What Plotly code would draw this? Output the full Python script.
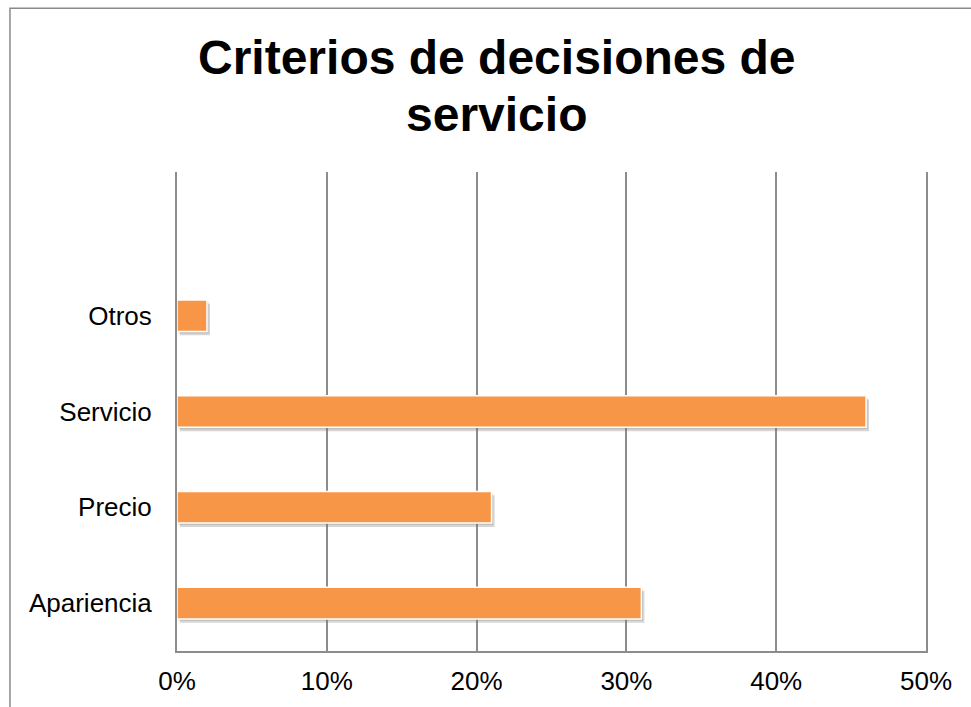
import plotly.graph_objects as go

# Data
categories = ["Apariencia", "Precio", "Servicio", "Otros"]
values = [31, 21, 46, 2]          # percent
tick_vals = [0, 10, 20, 30, 40, 50]
tick_text = ["0%", "10%", "20%", "30%", "40%", "50%"]
title_lines = ["Criterios de decisiones de", "servicio"]

positions = list(range(len(categories)))
bar_width = 0.33
shadow_shift = 0.2   # in percent units along x

FONT = "Liberation Sans, Arial, sans-serif"

fig = go.Figure()

# soft drop shadow behind each bar
fig.add_trace(go.Bar(
    y=positions, x=values, base=shadow_shift, orientation="h",
    width=bar_width, offset=-bar_width / 2 - 0.04,
    marker=dict(color="rgba(120,120,120,0.30)", line=dict(width=0)),
    hoverinfo="skip", showlegend=False,
))
fig.add_trace(go.Bar(
    y=positions, x=values, base=shadow_shift / 2, orientation="h",
    width=bar_width, offset=-bar_width / 2 - 0.02,
    marker=dict(color="rgba(120,120,120,0.25)", line=dict(width=0)),
    hoverinfo="skip", showlegend=False,
))

# main bars
fig.add_trace(go.Bar(
    y=positions, x=values, orientation="h",
    width=bar_width, offset=-bar_width / 2,
    marker=dict(color="#F79646", line=dict(color="white", width=1.5)),
    showlegend=False,
))

# two-line bold title, one annotation per line
title_annotations = [
    dict(text=f"<b>{line}</b>", xref="paper", yref="paper",
         x=0.4266, y=yy, xanchor="center", yanchor="middle",
         showarrow=False, font=dict(size=48, family=FONT, color="black"))
    for line, yy in zip(title_lines, [1.24, 1.121])
]

fig.update_layout(
    width=971, height=707,
    margin=dict(l=177, r=45, t=172, b=56),
    paper_bgcolor="white", plot_bgcolor="white",
    barmode="overlay",
    font=dict(family=FONT, color="black"),
    annotations=title_annotations,
    xaxis=dict(
        range=[0, 50], tickvals=tick_vals, ticktext=tick_text,
        showgrid=True, gridcolor="#8c8c8c", gridwidth=2,
        zeroline=False, showline=True, linecolor="#8c8c8c", linewidth=2,
        ticks="", tickfont=dict(size=26), ticklabelstandoff=6, fixedrange=True,
    ),
    yaxis=dict(
        range=[-0.5, 4.5], tickvals=positions, ticktext=categories,
        showgrid=False, zeroline=False,
        showline=True, mirror=True, linecolor="#8c8c8c", linewidth=2,
        ticks="", ticklen=0, tickfont=dict(size=26), ticklabelstandoff=18,
        fixedrange=True,
    ),
    shapes=[
        dict(type="rect", xref="paper", yref="paper",
             x0=-0.223, x1=1.3, y0=-0.3, y1=1.342,
             line=dict(color="#8a8a8a", width=1.5), fillcolor="rgba(0,0,0,0)",
             layer="below"),
    ],
)

fig.write_html("out.html")
